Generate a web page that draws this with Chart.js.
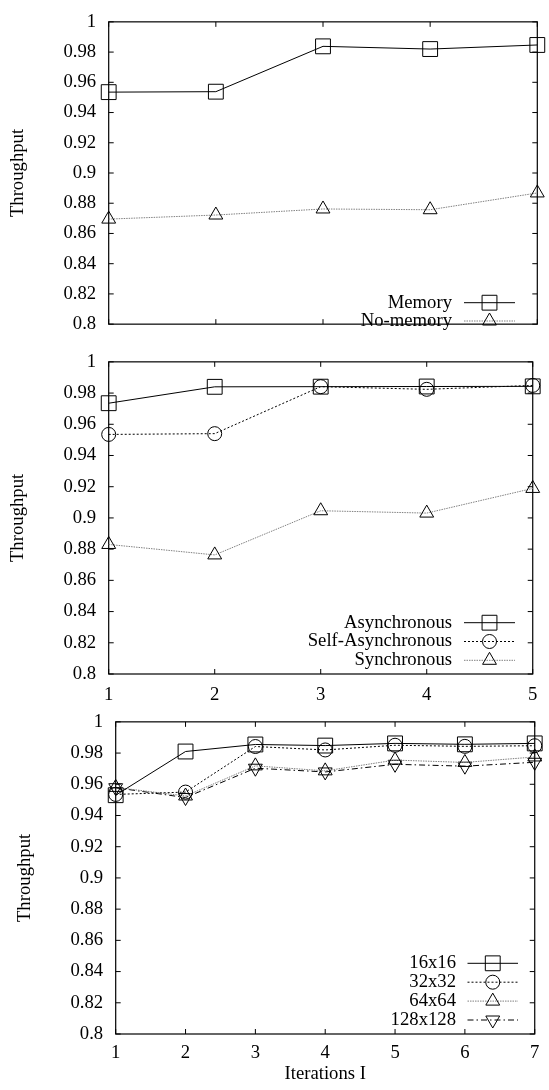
<!DOCTYPE html>
<html><head><meta charset="utf-8">
<script src="https://cdn.jsdelivr.net/npm/chart.js@4/dist/chart.umd.min.js"></script>
<style>
html,body{margin:0;padding:0;background:#fff;width:549px;height:1090px;overflow:hidden;position:relative;}
canvas{position:absolute;left:0;}
</style></head><body>
<canvas id="c1" width="549" height="346" style="top:0px"></canvas>
<canvas id="c2" width="549" height="372" style="top:340px"></canvas>
<canvas id="c3" width="549" height="390" style="top:700px"></canvas>
<script>
// ---------- data ----------
const yTicks = [0.8, 0.82, 0.84, 0.86, 0.88, 0.9, 0.92, 0.94, 0.96, 0.98, 1];

const panel1Labels = ['1', '2', '3', '4', '5'];
const memory   = [0.9535, 0.9538, 0.9838, 0.9820, 0.9847];
const noMemory = [0.8695, 0.8722, 0.8762, 0.8757, 0.8868];

const panel2Labels = ['1', '2', '3', '4', '5'];
const asynchronous     = [0.9735, 0.9840, 0.9841, 0.9842, 0.9843];
const selfAsynchronous = [0.9535, 0.9540, 0.9841, 0.9824, 0.9849];
const synchronous      = [0.8830, 0.8763, 0.9046, 0.9031, 0.9189];

const panel3Labels = ['1', '2', '3', '4', '5', '6', '7'];
const s16x16   = [0.9530, 0.9810, 0.9855, 0.9848, 0.9862, 0.9856, 0.9862];
const s32x32   = [0.9535, 0.9550, 0.9842, 0.9820, 0.9850, 0.9843, 0.9847];
const s64x64   = [0.9580, 0.9525, 0.9718, 0.9686, 0.9755, 0.9740, 0.9775];
const s128x128 = [0.9578, 0.9515, 0.9703, 0.9679, 0.9728, 0.9716, 0.9741];

// ---------- styles ----------
const FAMILY = '"Liberation Serif", "Times New Roman", serif';
const FS = 18.7;
const font = {family: FAMILY, size: FS, lineHeight: 1};
const GRAY = '#808080';

const styles = {
  solidSquare:  {borderColor: '#000', borderDash: [], pointStyle: 'rect', pointRadius: 10.5, pointRotation: 0},
  grayTriangle: {borderColor: GRAY, borderDash: [1.5, 1], pointStyle: 'triangle', pointRadius: 8, pointRotation: 0},
  dotCircle:    {borderColor: '#000', borderDash: [2, 2], pointStyle: 'circle', pointRadius: 7, pointRotation: 0},
  dashDotTri:   {borderColor: '#000', borderDash: [6, 3, 1.5, 3], pointStyle: 'triangle', pointRadius: 8, pointRotation: 180}
};

function ds(label, data, st) {
  return Object.assign({
    label, data,
    borderWidth: 1,
    pointBorderColor: '#000',
    pointBackgroundColor: 'rgba(0,0,0,0)',
    pointBorderWidth: 1,
    pointHoverRadius: st.pointRadius,
    tension: 0,
    fill: false,
    clip: false
  }, st);
}

// ---------- plugins ----------
const framePlugin = {
  id: 'gpFrame',
  beforeDatasetsDraw(chart) {
    const {ctx, chartArea: a, scales: {x, y}} = chart;
    const L = 5;
    ctx.save();
    ctx.strokeStyle = '#000';
    ctx.lineWidth = 1.2;
    ctx.setLineDash([]);
    ctx.strokeRect(a.left, a.top, a.right - a.left, a.bottom - a.top);
    ctx.lineWidth = 1;
    ctx.beginPath();
    y.ticks.forEach((t, i) => {
      const py = y.getPixelForValue(t.value);
      ctx.moveTo(a.left, py); ctx.lineTo(a.left + L, py);
      ctx.moveTo(a.right, py); ctx.lineTo(a.right - L, py);
    });
    x.ticks.forEach((t, i) => {
      const px = x.getPixelForTick(i);
      ctx.moveTo(px, a.bottom); ctx.lineTo(px, a.bottom - L);
      ctx.moveTo(px, a.top); ctx.lineTo(px, a.top + L);
    });
    ctx.stroke();
    ctx.restore();
  }
};

function drawMarker(ctx, d, x, y) {
  if (Chart.helpers && Chart.helpers.drawPoint) {
    Chart.helpers.drawPoint(ctx, {pointStyle: d.pointStyle, rotation: d.pointRotation || 0, radius: d.pointRadius, borderWidth: d.pointBorderWidth}, x, y);
    return;
  }
  const r = d.pointRadius;
  ctx.beginPath();
  if (d.pointStyle === 'rect') {
    const s = r * Math.SQRT1_2; ctx.rect(x - s, y - s, 2 * s, 2 * s);
  } else if (d.pointStyle === 'circle') {
    ctx.arc(x, y, r, 0, Math.PI * 2);
  } else {
    const rot = (d.pointRotation || 0) * Math.PI / 180;
    for (let k = 0; k < 3; k++) {
      const ang = rot - Math.PI / 2 + k * 2 * Math.PI / 3;
      const px = x + Math.cos(ang) * r, py = y + Math.sin(ang) * r;
      k ? ctx.lineTo(px, py) : ctx.moveTo(px, py);
    }
    ctx.closePath();
  }
  ctx.stroke();
}

const legendPlugin = {
  id: 'gpLegend',
  afterDraw(chart, args, opts) {
    const ctx = chart.ctx;
    ctx.save();
    ctx.font = FS + 'px ' + FAMILY;
    ctx.textAlign = 'right';
    ctx.textBaseline = 'middle';
    chart.data.datasets.forEach((d, i) => {
      const y = opts.y0 + i * opts.dy;
      ctx.fillStyle = '#000';
      ctx.fillText(d.label, opts.textRight, y);
      ctx.save();
      ctx.strokeStyle = d.borderColor;
      ctx.lineWidth = d.borderWidth;
      ctx.setLineDash(d.borderDash || []);
      ctx.beginPath(); ctx.moveTo(opts.x1, y); ctx.lineTo(opts.x2, y); ctx.stroke();
      ctx.restore();
      ctx.save();
      ctx.setLineDash([]);
      ctx.strokeStyle = d.pointBorderColor;
      ctx.fillStyle = 'rgba(0,0,0,0)';
      ctx.lineWidth = d.pointBorderWidth;
      drawMarker(ctx, d, (opts.x1 + opts.x2) / 2, y);
      ctx.restore();
    });
    ctx.restore();
  }
};

function makeOptions(cfg) {
  return {
    responsive: false,
    animation: false,
    events: [],
    layout: {padding: {top: cfg.padTop, right: cfg.padRight, left: 0, bottom: 0}},
    plugins: {legend: {display: false}, tooltip: {enabled: false}, gpLegend: cfg.legend},
    scales: {
      x: {
        type: 'category', offset: false,
        grid: {display: false, drawTicks: false}, border: {display: false},
        ticks: {display: cfg.showX, padding: cfg.xPad, font, color: '#000', maxRotation: 0, autoSkip: false},
        title: {display: !!cfg.xTitle, text: cfg.xTitle || '', font, color: '#000', padding: {top: 0, bottom: cfg.xTitlePad || 0}},
        afterFit: s => { s.height = cfg.xHeight; }
      },
      y: {
        type: 'linear', min: 0.8, max: 1,
        grid: {display: false, drawTicks: false}, border: {display: false},
        afterBuildTicks: s => { s.ticks = yTicks.map(v => ({value: v})); },
        ticks: {padding: 12.5, font, color: '#000', callback: v => String(v)},
        title: {display: true, text: 'Throughput', font, color: '#000', padding: {top: cfg.yTitlePad, bottom: 0}},
        afterFit: s => { s.width = cfg.yWidth; }
      }
    }
  };
}

new Chart(document.getElementById('c1'), {
  type: 'line',
  data: {labels: panel1Labels, datasets: [
    ds('Memory', memory, styles.solidSquare),
    ds('No-memory', noMemory, styles.grayTriangle)
  ]},
  options: makeOptions({padTop: 15.3, padRight: 11.7, yWidth: 108.7, xHeight: 12, showX: false, xPad: 0, yTitlePad: 8.65,
    legend: {textRight: 452, x1: 464, x2: 515, y0: 302.7, dy: 18.3}}),
  plugins: [framePlugin, legendPlugin]
});

new Chart(document.getElementById('c2'), {
  type: 'line',
  data: {labels: panel2Labels, datasets: [
    ds('Asynchronous', asynchronous, styles.solidSquare),
    ds('Self-Asynchronous', selfAsynchronous, styles.dotCircle),
    ds('Synchronous', synchronous, styles.grayTriangle)
  ]},
  options: makeOptions({padTop: 16, padRight: 11.7, yWidth: 108.7, xHeight: 38, showX: true, xPad: 11.6, yTitlePad: 8.65,
    legend: {textRight: 452, x1: 464, x2: 515, y0: 282.7, dy: 18.8}}),
  plugins: [framePlugin, legendPlugin]
});

new Chart(document.getElementById('c3'), {
  type: 'line',
  data: {labels: panel3Labels, datasets: [
    ds('16x16', s16x16, styles.solidSquare),
    ds('32x32', s32x32, styles.dotCircle),
    ds('64x64', s64x64, styles.grayTriangle),
    ds('128x128', s128x128, styles.dashDotTri)
  ]},
  options: makeOptions({padTop: 19.3, padRight: 11.7, yWidth: 115.7, xHeight: 56, showX: true, xPad: 9.6, yTitlePad: 16.15,
    xTitle: 'Iterations I', xTitlePad: 6.65,
    legend: {textRight: 456, x1: 467.5, x2: 518, y0: 263.3, dy: 18.9}}),
  plugins: [framePlugin, legendPlugin]
});
</script>
</body></html>
